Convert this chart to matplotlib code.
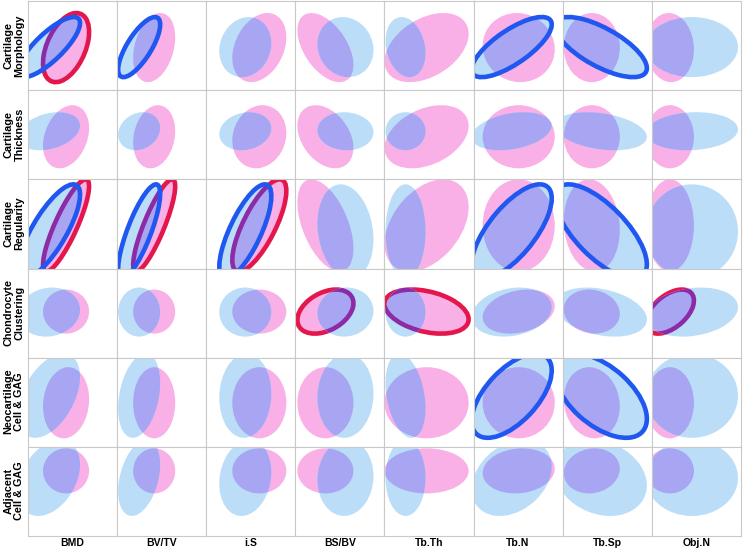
import numpy as np
import matplotlib
matplotlib.use("Agg")
import matplotlib.pyplot as plt
from matplotlib.patches import Ellipse
import matplotlib.transforms as transforms

plt.rcParams['font.family'] = ['Liberation Sans', 'DejaVu Sans']

row_labels = ['Cartilage\nMorphology', 'Cartilage\nThickness', 'Cartilage\nRegularity',
              'Chondrocyte\nClustering', 'Neocartilage\nCell & GAG', 'Adjacent\nCell & GAG']
col_labels = ['BMD', 'BV/TV', 'i.S', 'BS/BV', 'Tb.Th', 'Tb.N', 'Tb.Sp', 'Obj.N']

# cell units: 0..89 in both directions, y measured from the bottom of the cell
# group means / half ranges along x (one per column)
pink_x = [38, 37, 53, 30, 42, 45, 29, 18]
pink_dx = [23, 21, 27, 28, 42, 36, 28, 24]
blue_x = [21, 22, 39, 50, 21, 38, 38, 40]
blue_dx = [31, 21, 26, 28, 20, 40, 46, 46]

# group means / half ranges along y (one per row)
pink_y = [42.5, 42.5, 43, 46, 44, 65]
pink_dy = [34.5, 31.5, 46, 22, 35.5, 22.5]
blue_y = [43, 48, 37, 45.5, 51, 58]
blue_dy = [30, 19, 47, 24.5, 42, 38]

# correlation in each cell
pink_r = [
    [0.45, 0.30, 0.30, -0.50, 0.40, -0.05, 0.00, -0.05],
    [0.28, 0.18, 0.12, -0.35, 0.35, 0.00, 0.00, 0.00],
    [0.85, 0.85, 0.75, -0.50, 0.40, 0.00, -0.10, 0.00],
    [0.00, 0.00, 0.00, 0.38, -0.35, 0.25, -0.10, 0.50],
    [0.10, 0.00, 0.00, 0.00, 0.00, 0.00, -0.10, 0.00],
    [0.00, 0.00, 0.00, 0.00, 0.00, 0.10, 0.10, 0.00],
]
blue_r = [
    [0.80, 0.75, 0.13, -0.10, -0.20, 0.75, -0.70, 0.00],
    [0.30, 0.18, 0.15, -0.05, 0.00, 0.30, -0.30, 0.10],
    [0.78, 0.80, 0.75, -0.17, 0.00, 0.70, -0.70, 0.00],
    [0.10, 0.00, 0.00, 0.05, 0.00, 0.20, -0.30, 0.20],
    [0.45, 0.30, 0.05, 0.05, -0.30, 0.60, -0.55, 0.00],
    [0.35, 0.35, 0.15, 0.05, 0.00, 0.30, -0.20, 0.00],
]

# significant cells (row, col) get an outline
red_ring = [(0, 0), (2, 0), (2, 1), (2, 2), (3, 3), (3, 4), (3, 7)]
blue_ring = [(0, 0), (0, 1), (0, 5), (0, 6), (2, 0), (2, 1), (2, 2), (2, 5), (2, 6), (4, 5), (4, 6)]

PINK = '#f8b0e6'
BLUE = '#bcddf8'
OVER = '#a8a6f2'
RED = '#e3174b'
PURPLE = '#8d2ba6'
BLUE_EDGE = '#1f57f0'
CELL = 89


def conf_ellipse(ax, cx, cy, sx, sy, r, **kw):
    e = Ellipse((0, 0), width=2 * np.sqrt(1 + r), height=2 * np.sqrt(1 - r), **kw)
    t = transforms.Affine2D().rotate_deg(45).scale(sx, sy).translate(cx, cy)
    e.set_transform(t + ax.transData)
    return e


fig, axes = plt.subplots(6, 8, figsize=(7.43, 5.51), dpi=100)
fig.subplots_adjust(left=28 / 743, right=741 / 743, top=1 - 1 / 551, bottom=1 - 536 / 551,
                    wspace=0, hspace=0)

for i in range(6):
    for j in range(8):
        ax = axes[i, j]
        p_args = (pink_x[j], pink_y[i], pink_dx[j], pink_dy[i], pink_r[i][j])
        b_args = (blue_x[j], blue_y[i], blue_dx[j], blue_dy[i], blue_r[i][j])

        ax.add_patch(conf_ellipse(ax, *p_args, facecolor=PINK, edgecolor='none'))
        if (i, j) in red_ring:
            ax.add_patch(conf_ellipse(ax, *p_args, fill=False, edgecolor=RED, lw=3.3))

        blue = conf_ellipse(ax, *b_args, facecolor=BLUE, edgecolor='none')
        ax.add_patch(blue)

        # overlap of the two groups gets its own colour
        over = conf_ellipse(ax, *p_args, facecolor=OVER, edgecolor='none')
        over.set_clip_path(blue)
        over.set_clip_box(ax.bbox)
        ax.add_patch(over)
        if (i, j) in red_ring:
            ring = conf_ellipse(ax, *p_args, fill=False, edgecolor=PURPLE, lw=3.3)
            ring.set_clip_path(blue)
            ring.set_clip_box(ax.bbox)
            ax.add_patch(ring)

        if (i, j) in blue_ring:
            ax.add_patch(conf_ellipse(ax, *b_args, fill=False, edgecolor=BLUE_EDGE, lw=3.3))

        ax.set_xlim(0, CELL)
        ax.set_ylim(0, CELL)
        ax.set_xticks([])
        ax.set_yticks([])
        for s in ax.spines.values():
            s.set_color('#c9c9c9')
            s.set_linewidth(0.8)

for i, lab in enumerate(row_labels):
    y = 1 - (1 + CELL * (i + 0.5)) / 551
    fig.text(14 / 743, y, lab, rotation=90, ha='center', va='center', fontsize=7.8,
             fontweight='bold', multialignment='center', linespacing=1.1)

for j, lab in enumerate(col_labels):
    x = (28 + 89.1 * (j + 0.5)) / 743
    fig.text(x, 1 - 543.5 / 551, lab, ha='center', va='center', fontsize=7.5, fontweight='bold')

fig.savefig('out.png', dpi=100)
